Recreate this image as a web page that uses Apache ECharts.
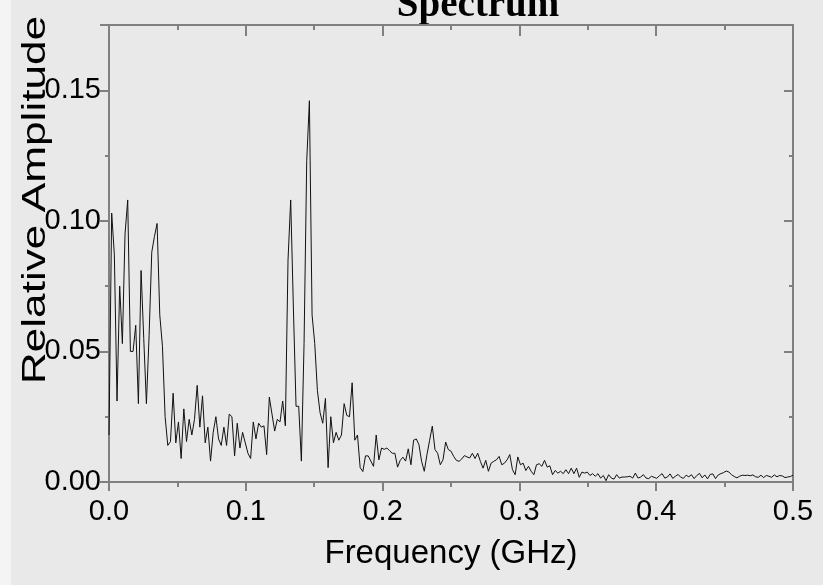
<!DOCTYPE html>
<html>
<head>
<meta charset="utf-8">
<title>Spectrum</title>
<script src="https://cdn.jsdelivr.net/npm/echarts@6/dist/echarts.min.js"></script>
<style>
  html, body { margin: 0; padding: 0; background: #e9e9e9; }
  #chart { width: 823px; height: 585px; }
</style>
</head>
<body>
<div id="chart"></div>
<script>
// spectrum sampled every 0.5/256 GHz
const freqStep = 0.5 / 256;
const amplitude = [
  0.018, 0.103, 0.087, 0.031, 0.075, 0.053, 0.095, 0.108, 0.050, 0.050,
  0.060, 0.030, 0.081, 0.055, 0.030, 0.056, 0.088, 0.094, 0.099, 0.064,
  0.052, 0.025, 0.014, 0.0155, 0.034, 0.015, 0.023, 0.009, 0.028, 0.0155,
  0.024, 0.018, 0.024, 0.037, 0.021, 0.033, 0.015, 0.021, 0.008, 0.019,
  0.025, 0.0165, 0.014, 0.021, 0.014, 0.026, 0.025, 0.010, 0.0225, 0.013,
  0.019, 0.015, 0.011, 0.009, 0.023, 0.0165, 0.0225, 0.021, 0.0215, 0.0105,
  0.0325, 0.026, 0.0195, 0.024, 0.023, 0.031, 0.0215, 0.085, 0.108, 0.067,
  0.029, 0.029, 0.008, 0.053, 0.123, 0.146, 0.064, 0.053, 0.035, 0.0265,
  0.0225, 0.032, 0.0055, 0.025, 0.015, 0.019, 0.016, 0.018, 0.030, 0.0255,
  0.025, 0.038, 0.016, 0.018, 0.0055, 0.004, 0.010, 0.010, 0.008, 0.006,
  0.018, 0.0085, 0.013, 0.0125, 0.013, 0.012, 0.011, 0.011, 0.0057, 0.0083,
  0.0095, 0.008, 0.0127, 0.0066, 0.016, 0.0165, 0.0143, 0.0079, 0.0041, 0.0105,
  0.016, 0.0214, 0.0124, 0.011, 0.0066, 0.0085, 0.0153, 0.0124, 0.0118, 0.0098,
  0.0083, 0.0079, 0.0088, 0.0101, 0.0096, 0.0092, 0.011, 0.009, 0.011, 0.0079,
  0.0053, 0.0083, 0.0041, 0.0072, 0.0079, 0.0085, 0.0098, 0.0066, 0.0072, 0.0085,
  0.0105, 0.0047, 0.0028, 0.0096, 0.0066, 0.0072, 0.0044, 0.006, 0.0041, 0.0028,
  0.0066, 0.007, 0.006, 0.0083, 0.0057, 0.0062, 0.0028, 0.0044, 0.0034, 0.0041,
  0.0032, 0.0047, 0.0032, 0.0053, 0.0032, 0.0053, 0.0018, 0.0038, 0.0034, 0.0038,
  0.0025, 0.0032, 0.0022, 0.0032, 0.0015, 0.0025, 0.0005, 0.0028, 0.0015, 0.0011,
  0.0028, 0.0015, 0.0019, 0.0019, 0.002, 0.0022, 0.0015, 0.0034, 0.0015, 0.0019,
  0.0028, 0.0015, 0.0013, 0.0022, 0.0018, 0.0014, 0.0024, 0.0032, 0.0015, 0.0019,
  0.0031, 0.0014, 0.0022, 0.0029, 0.0018, 0.0014, 0.0026, 0.002, 0.0028, 0.0013,
  0.0025, 0.0033, 0.0016, 0.0027, 0.0012, 0.0029, 0.0031, 0.0013, 0.0027, 0.0032,
  0.0036, 0.0042, 0.0038, 0.0028, 0.0021, 0.0016, 0.0022, 0.0026, 0.0025, 0.0026,
  0.0024, 0.0027, 0.002, 0.0018, 0.0026, 0.0017, 0.0025, 0.0022, 0.0018, 0.0027,
  0.002, 0.0025, 0.0023, 0.0017, 0.0019, 0.0021, 0.0026
];
const freqTicks = [0, 0.1, 0.2, 0.3, 0.4, 0.5];
const ampTicks = [0, 0.05, 0.10, 0.15];

const points = amplitude.map((v, i) => [i * freqStep, v]);

const axisGray = '#808080';
const font = '"Liberation Sans", Arial, sans-serif';

const myChart = echarts.init(document.getElementById('chart'));

// x axes: bottom (ticks out) and top (ticks in)
const xBase = (pos, inside, len, minorLen) => ({
  type: 'value',
  position: pos,
  min: 0,
  max: 0.5,
  interval: 0.1,
  axisLine: { show: true, onZero: false, lineStyle: { color: axisGray, width: 2 } },
  axisTick: { show: true, inside: inside, length: len, lineStyle: { color: axisGray, width: 2 } },
  minorTick: { show: true, splitNumber: 2, length: minorLen, lineStyle: { color: axisGray, width: 2 } },
  splitLine: { show: false },
  minorSplitLine: { show: false },
  axisLabel: { show: false }
});

const xBottom = xBase('bottom', false, 9, 5);
xBottom.axisLabel = {
  show: true,
  color: '#000',
  fontFamily: font,
  fontSize: 29,
  margin: 15,
  formatter: v => freqTicks.some(t => Math.abs(t - v) < 1e-9) ? v.toFixed(1) : ''
};
xBottom.name = 'Frequency (GHz)';
xBottom.nameLocation = 'middle';
xBottom.nameGap = 55;
xBottom.nameTextStyle = { color: '#000', fontFamily: font, fontSize: 33 };

const xTop = xBase('top', true, 11, 5);

// y axes: major ticks every 0.05, separate axis for the 0.025 minor ticks
const yBase = (pos, inside, interval, len, showLine) => ({
  type: 'value',
  position: pos,
  min: 0,
  max: 0.175,
  interval: interval,
  axisLine: { show: showLine, onZero: false, lineStyle: { color: axisGray, width: 2 } },
  axisTick: { show: true, inside: inside, length: len, lineStyle: { color: axisGray, width: 2 } },
  splitLine: { show: false },
  axisLabel: { show: false }
});

const yLeft = yBase('left', false, 0.05, 9, true);
yLeft.axisLabel = {
  show: true,
  color: '#000',
  fontFamily: font,
  fontSize: 29,
  margin: 8,
  formatter: v => ampTicks.some(t => Math.abs(t - v) < 1e-9) ? v.toFixed(2) : ''
};

const yRight = yBase('right', true, 0.05, 9, true);
const yLeftMinor = yBase('left', false, 0.025, 4, false);
const yRightMinor = yBase('right', true, 0.025, 4, false);

myChart.setOption({
  animation: false,
  backgroundColor: '#e9e9e9',
  graphic: [
    { type: 'rect', left: 0, top: 0, shape: { width: 11, height: 585 }, style: { fill: '#f4f4f4' } },
    {
      type: 'text',
      x: 478,
      y: 25,
      style: {
        text: 'Spectrum',
        font: 'bold 39px "Liberation Serif", "Times New Roman", serif',
        fill: '#000',
        align: 'center',
        verticalAlign: 'bottom'
      }
    },
    {
      // y axis title, stretched along its length like the reference
      type: 'text',
      x: 36,
      y: 200,
      rotation: Math.PI / 2,
      scaleX: 1.3,
      style: {
        text: 'Relative Amplitude',
        font: '34px "Liberation Sans", Arial, sans-serif',
        fill: '#000',
        align: 'center',
        verticalAlign: 'middle'
      }
    }
  ],
  grid: { left: 109, top: 25, width: 684, height: 457, containLabel: false, outerBoundsMode: 'none' },
  xAxis: [xBottom, xTop],
  yAxis: [yLeft, yRight, yLeftMinor, yRightMinor],
  series: [
    {
      name: 'Relative Amplitude',
      type: 'line',
      xAxisIndex: 0,
      yAxisIndex: 0,
      data: points,
      showSymbol: false,
      lineStyle: { color: '#111', width: 1 }
    }
  ]
});

window.addEventListener('resize', () => {
  myChart.resize();
});
</script>
</body>
</html>
